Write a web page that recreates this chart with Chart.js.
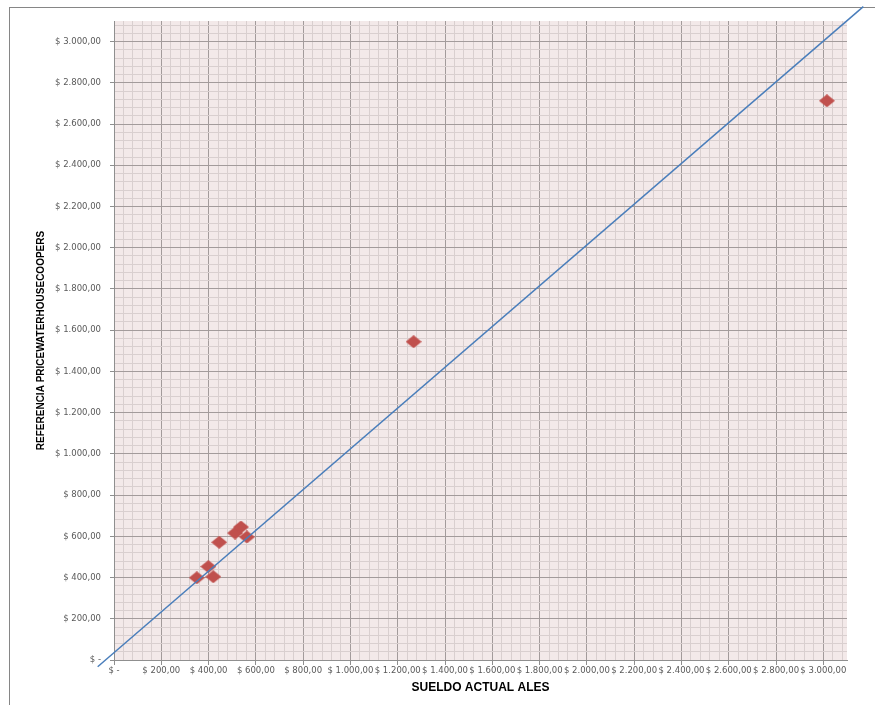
<!DOCTYPE html>
<html>
<head>
    <title>Sueldo actual vs referencia PricewaterhouseCoopers</title>
    <style>
        body {
            margin: 0;
            padding: 0;
            background: #ffffff;
            overflow: hidden;
        }
        .frame {
            position: absolute;
            left: 9px;
            top: 7px;
            width: 900px;
            height: 720px;
            border-left: 1px solid #868686;
            border-top: 1px solid #868686;
        }
        canvas {
            position: absolute;
            left: 0;
            top: 0;
        }
    </style>
    <script src="https://cdn.jsdelivr.net/npm/chart.js"></script>
</head>
<body>
    <div class="frame"></div>
    <canvas id="salaryChart" width="875" height="705" style="width:875px;height:705px"></canvas>

    <script>
        // Points (x = sueldo actual, y = referencia PwC)
        const sueldoActual = [350, 399, 420, 445, 512, 537, 562, 1267, 3015];
        const referenciaPwc = [399, 453, 404, 571, 616, 645, 597, 1544, 2713];

        // Reference line (drawn past the plot edges, like the original)
        const lineaX = [-69, 3169];
        const lineaY = [-33, 3170];

        // Axis ticks
        const majorTicks = [0, 200, 400, 600, 800, 1000, 1200, 1400, 1600, 1800, 2000, 2200, 2400, 2600, 2800, 3000];
        const minorStep = 40;
        const axisMax = 3100;

        const fmt = (v) => {
            if (v === 0) return '$ -';
            const s = String(Math.round(v)).replace(/\B(?=(\d{3})+(?!\d))/g, '.');
            return '$ ' + s + ',00';
        };

        // diamond marker, slightly wider than tall
        const diamond = document.createElement('canvas');
        diamond.width = 16;
        diamond.height = 13;
        const d = diamond.getContext('2d');
        d.fillStyle = '#c0504d';
        d.beginPath();
        d.moveTo(0, 6.5);
        d.lineTo(8, 0);
        d.lineTo(16, 6.5);
        d.lineTo(8, 13);
        d.closePath();
        d.fill();

        const plotBackground = {
            id: 'plotBackground',
            beforeDraw(chart) {
                const { ctx, chartArea: a } = chart;
                ctx.save();
                ctx.fillStyle = '#f3e9e9';
                ctx.fillRect(a.left, a.top, a.right - a.left, a.bottom - a.top);
                ctx.restore();
            }
        };

        const buildTicks = (scale) => {
            const ticks = [];
            for (let v = 0; v < axisMax; v += minorStep) ticks.push({ value: v });
            scale.ticks = ticks;
        };

        const isMajor = (ctx) => ctx.tick && majorTicks.includes(ctx.tick.value);

        const tickFont = { family: '"DejaVu Sans", Verdana, sans-serif', size: 8.5 };

        const gridOpts = (tickLength) => ({
            color: (ctx) => isMajor(ctx) ? '#a39b9b' : '#d9cfcf',
            lineWidth: 1,
            tickLength: tickLength,
            tickColor: (ctx) => isMajor(ctx) ? '#8f8f8f' : 'rgba(0,0,0,0)',
            tickWidth: 1
        });

        new Chart(document.getElementById('salaryChart'), {
            type: 'scatter',
            data: {
                datasets: [
                    {
                        type: 'line',
                        label: 'Referencia',
                        data: lineaX.map((x, i) => ({ x: x, y: lineaY[i] })),
                        borderColor: '#4a7ebb',
                        borderWidth: 1.5,
                        pointRadius: 0,
                        fill: false,
                        clip: false
                    },
                    {
                        label: 'Sueldos',
                        data: sueldoActual.map((x, i) => ({ x: x, y: referenciaPwc[i] })),
                        pointStyle: diamond,
                        pointRadius: 7,
                        backgroundColor: '#c0504d',
                        borderColor: '#c0504d'
                    }
                ]
            },
            options: {
                responsive: false,
                devicePixelRatio: 1,
                animation: false,
                layout: {
                    padding: { left: 33, top: 21, right: 28, bottom: 10 }
                },
                plugins: {
                    legend: { display: false },
                    tooltip: { enabled: false }
                },
                scales: {
                    x: {
                        type: 'linear',
                        min: 0,
                        max: axisMax,
                        afterBuildTicks: buildTicks,
                        afterFit: (s) => { s.height = 35; },
                        grid: gridOpts(5),
                        border: { color: '#8f8f8f', width: 1 },
                        ticks: {
                            autoSkip: false,
                            maxRotation: 0,
                            minRotation: 0,
                            padding: 1,
                            color: '#595959',
                            font: tickFont,
                            callback: (v) => majorTicks.includes(v) ? fmt(v) : ''
                        },
                        title: {
                            display: true,
                            text: 'SUELDO ACTUAL ALES',
                            color: '#000000',
                            padding: { top: 0, bottom: 0 },
                            font: { family: '"Liberation Sans", Arial, sans-serif', size: 12, weight: 'bold' }
                        }
                    },
                    y: {
                        type: 'linear',
                        min: 0,
                        max: axisMax,
                        afterBuildTicks: buildTicks,
                        afterFit: (s) => { s.width = 81; },
                        grid: gridOpts(4),
                        border: { color: '#8f8f8f', width: 1 },
                        ticks: {
                            autoSkip: false,
                            padding: 9,
                            color: '#595959',
                            font: tickFont,
                            callback: (v) => majorTicks.includes(v) ? fmt(v) : ''
                        },
                        title: {
                            display: true,
                            text: 'REFERENCIA PRICEWATERHOUSECOOPERS',
                            color: '#000000',
                            padding: { top: 2, bottom: 0 },
                            font: { family: '"Liberation Sans", Arial, sans-serif', size: 10, weight: 'bold' }
                        }
                    }
                }
            },
            plugins: [plotBackground]
        });
    </script>
</body>
</html>
